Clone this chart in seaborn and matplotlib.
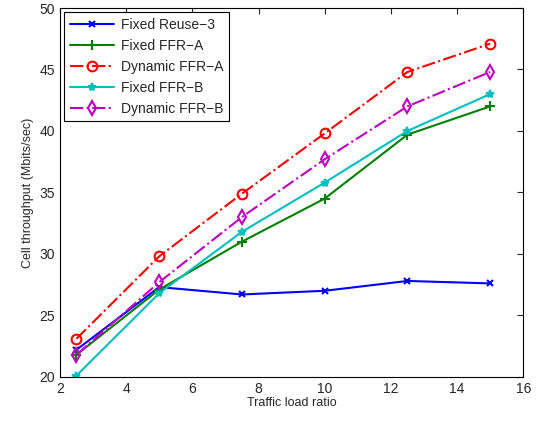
import pandas as pd
import numpy as np
import matplotlib
matplotlib.use('Agg')
import matplotlib.pyplot as plt
import seaborn as sns

# traffic load ratio (x) and cell throughput values for each scheme
load_ratio = [2.5, 5, 7.5, 10, 12.5, 15]
fixed_reuse3 = [22.2, 27.3, 26.7, 27.0, 27.8, 27.6]
fixed_ffr_a = [21.8, 27.1, 31.0, 34.5, 39.7, 42.0]
dynamic_ffr_a = [23.1, 29.8, 34.9, 39.8, 44.8, 47.1]
fixed_ffr_b = [20.1, 26.8, 31.8, 35.8, 40.0, 43.0]
dynamic_ffr_b = [21.8, 27.7, 33.0, 37.7, 42.0, 44.8]

series_names = ['Fixed Reuse\u22123', 'Fixed FFR\u2212A', 'Dynamic FFR\u2212A',
                'Fixed FFR\u2212B', 'Dynamic FFR\u2212B']
series_vals = [fixed_reuse3, fixed_ffr_a, dynamic_ffr_a, fixed_ffr_b, dynamic_ffr_b]

sns.set_style('white')
plt.rcParams['font.family'] = ['Liberation Sans', 'DejaVu Sans']

styles = [
    dict(color='#0000ff', marker='x', linestyle='-', ms=5, mfc='none'),
    dict(color='#008000', marker='+', linestyle='-', ms=7, mfc='none'),
    dict(color='#ff0000', marker='o', linestyle='-.', ms=7, mfc='none'),
    dict(color='#00bfbf', marker='*', linestyle='-', ms=6, mfc='#00bfbf'),
    dict(color='#bf00bf', marker='d', linestyle='-.', ms=7, mfc='none'),
]

fig = plt.figure(figsize=(5.4, 4.22), dpi=100)
ax = fig.add_axes([0.111, 0.107, 0.858, 0.874])

for name, vals, st in zip(series_names, series_vals, styles):
    df = pd.DataFrame({'x': load_ratio, 'y': vals})
    sns.lineplot(data=df, x='x', y='y', ax=ax, label=name, color=st['color'],
                 marker=st['marker'], linestyle=st['linestyle'], markersize=st['ms'],
                 markerfacecolor=st['mfc'], markeredgecolor=st['color'],
                 markeredgewidth=1.5, linewidth=1.5)

ax.set_xlim(2, 16)
ax.set_ylim(20, 50)
ax.set_xticks(np.arange(2, 17, 2))
ax.set_yticks(np.arange(20, 51, 5))
ax.set_xlabel('Traffic load ratio', fontsize=9, labelpad=1)
ax.set_ylabel('Cell throughput (Mbits/sec)', fontsize=9, labelpad=4)
ax.tick_params(direction='in', top=True, right=True, labelsize=10, length=4, width=0.8)
for sp in ax.spines.values():
    sp.set_color('black')
    sp.set_linewidth(0.8)

leg = ax.legend(loc='upper left', fontsize=10, handlelength=3.2, borderaxespad=0.3,
                fancybox=False, framealpha=1, labelspacing=0.5, borderpad=0.4,
                handletextpad=0.5)
leg.get_frame().set_edgecolor('black')
leg.get_frame().set_linewidth(0.8)

fig.savefig('out.png', dpi=100)
plt.close()
